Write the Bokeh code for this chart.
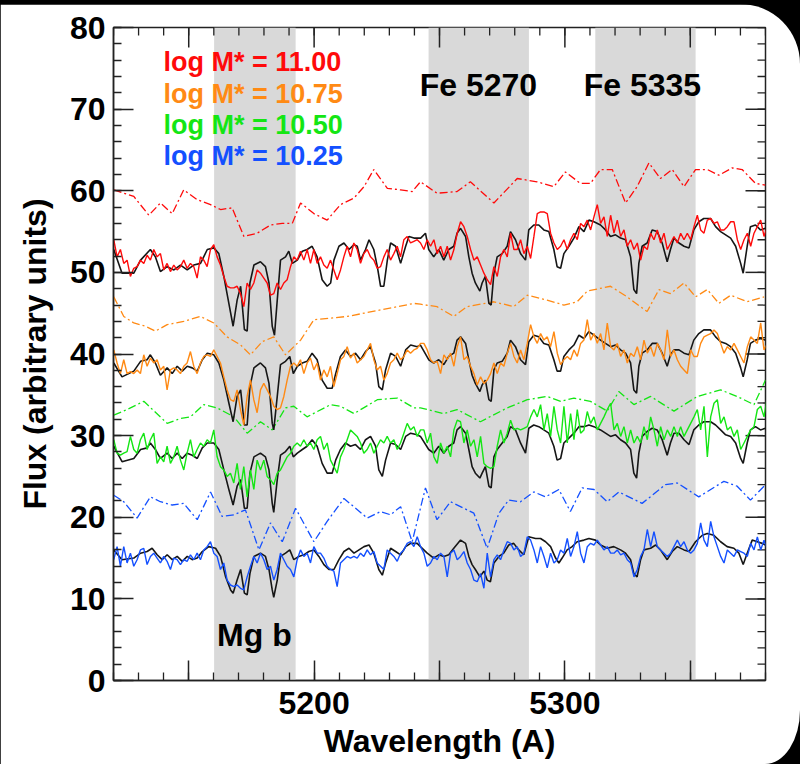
import numpy as np
from bokeh.plotting import figure
from bokeh.models import FixedTicker, Range1d
from bokeh.layouts import column
from bokeh.embed import file_html
from bokeh.resources import INLINE
from bokeh.core.properties import value

# ---------------- data ----------------
# Lick index bandpasses (Angstrom)
BAND_LEFT = [5160.125, 5245.65, 5312.125]
BAND_RIGHT = [5192.625, 5285.65, 5352.125]
BAND_NAMES = ["Mg b", "Fe 5270", "Fe 5335"]

# stacked data spectra: regular pixel grid
COLOR_WAVE_START = 5120.1
COLOR_WAVE_STEP = 1.3298

RED_FLUX = [
    54.0, 51.9, 52.8, 51.1, 51.5, 49.5, 50.5, 50.7, 51.5, 51.1,
    52.1, 51.5, 52.8, 51.9, 52.3, 50.3, 51.1, 50.1, 50.9, 50.3,
    50.7, 51.5, 50.5, 51.1, 50.7, 49.3, 51.9, 51.5, 50.7, 52.8,
    53.4, 51.9, 50.9, 49.5, 48.3, 48.1, 48.1, 48.3, 47.4, 45.8,
    48.7, 47.9, 48.7, 50.3, 49.9, 49.3, 48.7, 47.2, 47.4, 48.7,
    47.9, 48.7, 49.1, 50.7, 51.9, 51.5, 52.6, 51.5, 52.8, 51.1,
    52.8, 51.1, 51.9, 50.9, 50.5, 51.5, 50.3, 49.1, 50.3, 51.9,
    53.2, 51.9, 53.6, 52.8, 51.1, 52.3, 52.8, 51.9, 51.5, 50.5,
    50.7, 51.9, 52.8, 51.5, 52.3, 53.2, 51.9, 54.0, 54.4, 53.6,
    53.8, 54.0, 53.6,
    52.8, 54.0, 53.2, 54.0, 52.3, 53.2, 51.9, 53.2, 51.5, 52.8,
    54.8, 56.2, 55.6, 54.4, 52.8, 51.5, 51.9, 50.9, 49.9, 49.1,
    48.5, 50.7, 49.5, 51.9, 52.8, 51.9, 54.8, 52.8, 52.8, 54.0,
    52.3, 53.2, 51.7, 54.4, 57.2, 57.4, 57.4, 57.2, 54.8, 53.6,
    52.8, 53.2, 54.0, 52.8, 54.0, 54.8, 54.0, 56.0, 55.6, 56.4,
    55.2, 56.8, 58.3, 56.0, 56.8, 54.4, 57.0, 54.8, 56.4, 54.4,
    55.2, 53.2, 54.0, 52.8, 53.6, 51.5, 53.2, 52.8, 54.8, 54.0,
    55.2, 53.6, 54.8, 52.8, 53.6, 54.4, 53.6, 54.8, 54.0, 54.8,
    54.0, 55.6, 57.0, 55.2, 54.8, 56.4, 56.6, 56.0, 56.2, 55.2,
    55.2, 55.6, 56.2, 56.2, 54.0, 52.8, 54.0, 54.8, 53.2, 54.8,
    55.6, 56.4, 54.4, 55.6,
]
ORANGE_FLUX = [
    40.5, 38.9, 37.6, 39.3, 37.6, 37.85, 37.6, 38.05, 37.6, 39.9,
    38.5, 39.5, 38.9, 39.3, 38.05, 38.5, 35.6, 38.05, 38.3, 38.05,
    37.6, 38.5, 38.9, 40.3, 38.5, 37.6, 38.9, 39.7, 39.9, 39.7,
    40.5, 39.7, 38.9, 37.2, 35.6, 34.4, 34.2, 35.6, 33.2, 31.3,
    34.8, 36.8, 34.4, 32.8, 35.6, 36.4, 35.6, 34.8, 33.6, 33.2,
    33.4, 34.8, 36.8, 38.5, 38.9, 38.5, 39.3, 37.6, 38.9, 39.5,
    38.05, 38.9, 36.8, 38.05, 37.2, 38.5, 36.0, 37.6, 39.3, 39.7,
    40.9, 39.5, 40.1, 38.9, 39.3, 39.7, 40.5, 41.3, 39.3, 38.05,
    38.5, 36.8, 37.6, 38.9, 39.3, 40.1, 39.3, 39.7, 40.5, 40.1,
    40.5, 40.7, 41.3,
    41.3, 40.5, 39.3, 38.9, 39.1, 37.6, 39.9, 39.3, 40.1, 38.5,
    40.9, 42.1, 39.3, 39.7, 38.5, 37.6, 36.2, 37.2, 36.4, 36.8,
    37.6, 38.9, 37.6, 38.9, 38.5, 40.1, 41.3, 39.7, 38.9, 40.5,
    39.3, 41.3, 43.6, 42.1, 41.3, 42.5, 41.7, 42.1, 40.9, 42.75,
    40.1, 38.7, 39.3, 39.7, 39.3, 40.5, 39.7, 41.3, 41.7, 44.2,
    41.7, 42.5, 41.3, 42.5, 40.5, 43.8, 40.9, 40.5, 41.3, 39.7,
    40.5, 38.9, 40.1, 39.7, 40.9, 39.3, 41.7, 40.1, 40.9, 39.7,
    41.3, 40.5, 39.3, 42.95, 39.7, 40.5, 39.3, 38.5, 38.05, 37.6,
    40.5, 39.7, 39.7, 41.3, 42.1, 42.3, 42.5, 42.95, 42.5, 41.3,
    40.1, 40.9, 40.5, 41.3, 40.5, 39.7, 38.9, 40.9, 42.1, 41.7,
    41.3, 43.8, 40.5, 41.3,
]
GREEN_FLUX = [
    29.5, 27.85, 27.6, 27.85, 28.05, 29.9, 28.3, 27.85, 29.5, 30.3,
    28.3, 29.5, 30.3, 26.6, 27.4, 26.8, 28.7, 26.6, 27.4, 28.7,
    27.0, 25.8, 27.85, 29.5, 27.4, 28.3, 29.1, 28.7, 29.5, 29.1,
    30.7, 27.4, 26.2, 25.8, 25.0, 25.4, 24.2, 26.6, 23.4, 26.2,
    22.5, 25.8, 23.4, 27.0, 25.8, 27.0, 25.0, 24.6, 24.0, 25.4,
    25.8, 26.6, 27.4, 27.85, 28.7, 29.1, 28.7, 29.5, 28.7, 29.1,
    28.3, 29.5, 29.9, 28.3, 29.1, 27.0, 26.2, 25.4, 27.4, 28.3,
    29.5, 30.7, 30.3, 29.9, 29.1, 27.85, 28.3, 29.1, 27.85, 28.7,
    29.5, 29.1, 29.9, 29.1, 29.5, 28.3, 29.1, 30.3, 31.5, 30.7,
    31.1, 29.9, 30.7,
    30.7, 29.1, 30.3, 27.4, 26.6, 29.1, 27.85, 28.7, 27.4, 30.7,
    31.9, 31.7, 29.1, 30.7, 28.7, 29.5, 27.4, 29.9, 26.6, 26.2,
    26.0, 26.2, 28.7, 30.7, 29.1, 30.3, 31.9, 30.7, 30.9, 30.7,
    30.9, 31.1, 32.3, 33.2, 32.3, 33.8, 30.7, 32.7, 29.9, 33.6,
    30.7, 29.1, 33.6, 29.1, 32.7, 29.5, 33.2, 30.3, 30.7, 32.95,
    31.5, 32.3, 30.7, 31.5, 32.3, 33.2, 33.97, 30.7, 31.5, 29.9,
    31.1, 29.1, 30.7, 29.1, 29.9, 29.1, 31.1, 29.5, 32.3, 30.7,
    28.7, 31.1, 29.5, 30.7, 29.9, 31.1, 29.9, 31.1, 29.9, 30.7,
    31.5, 32.3, 33.2, 30.7, 33.6, 27.4, 32.3, 33.97, 34.4, 31.5,
    32.3, 30.7, 31.1, 29.9, 30.7, 28.3, 29.1, 29.9, 30.7, 31.1,
    33.2, 33.6, 32.3, 34.8,
]
BLUE_FLUX = [
    14.8, 16.4, 14.0, 16.4, 14.4, 15.6, 14.0, 14.8, 16.0, 16.2,
    14.2, 15.2, 15.6, 15.0, 14.4, 15.2, 14.6, 13.6, 15.0, 14.8,
    14.2, 14.8, 14.6, 15.4, 14.8, 15.6, 14.8, 16.0, 16.4, 17.0,
    15.6, 15.2, 13.6, 14.4, 12.3, 11.7, 11.5, 11.7, 11.3, 11.1,
    12.7, 14.0, 15.2, 14.4, 15.6, 14.8, 13.6, 14.0, 12.3, 13.6,
    15.6, 14.8, 14.0, 13.6, 12.7, 14.8, 16.0, 15.2, 15.6, 14.4,
    16.4, 15.6, 15.6, 15.0, 14.0, 13.6, 13.4, 11.5, 14.4, 14.8,
    15.2, 15.0, 15.2, 15.0, 15.6, 15.2, 16.0, 15.4, 15.8, 14.4,
    14.0, 13.6, 16.0, 15.6, 15.2, 14.6, 15.6, 16.0, 16.8, 17.0,
    16.4, 17.6, 16.4,
    15.6, 14.0, 14.4, 15.2, 14.8, 15.6, 15.2, 12.7, 15.6, 16.0,
    14.8, 15.2, 15.8, 14.4, 13.6, 12.3, 12.1, 13.1, 11.3, 15.6,
    12.7, 14.8, 15.4, 14.8, 16.0, 17.0, 16.8, 16.0, 16.4, 15.2,
    15.6, 17.6, 17.2, 16.0, 14.4, 16.4, 15.2, 13.8, 15.6, 14.4,
    14.8, 16.0, 15.6, 17.4, 15.2, 16.4, 18.25, 15.6, 14.4, 16.4,
    16.8, 16.6, 17.2, 16.6, 16.0, 16.4, 15.6, 15.6, 16.0, 15.4,
    15.6, 14.8, 14.4, 12.7, 13.6, 15.2, 16.0, 18.5, 16.4, 18.25,
    16.4, 16.0, 15.6, 15.2, 15.6, 16.4, 17.2, 16.4, 17.0, 16.0,
    15.6, 16.0, 16.8, 19.3, 17.2, 16.4, 19.5, 17.6, 16.4, 15.2,
    14.4, 16.0, 15.6, 15.2, 16.0, 15.8, 15.6, 15.2, 16.8, 16.0,
    17.6, 16.0, 17.2, 16.0,
]

# black model spectra
B1_WAVE = [
    5120.1, 5123.4, 5128.1, 5130.8, 5134.7, 5136.7, 5138.7, 5141.4, 5144.1, 5146.7,
    5149.4, 5152.0, 5154.7, 5157.4, 5160.0, 5162.0, 5164.0, 5166.0, 5167.7, 5169.3,
    5170.7, 5172.2, 5173.3, 5174.4, 5176.0, 5178.6, 5180.6, 5182.0, 5183.3, 5184.2,
    5185.3, 5186.6, 5188.6, 5189.9, 5191.3, 5193.3, 5195.3, 5197.2, 5199.2, 5201.2,
    5203.2, 5205.2, 5206.6, 5207.9, 5209.9, 5211.9, 5213.9, 5215.9, 5217.2, 5218.5,
    5220.5, 5221.9, 5223.8, 5225.2, 5226.5, 5227.8, 5229.2, 5230.5, 5232.5, 5234.5,
    5236.5, 5237.8, 5239.8, 5242.5, 5244.4, 5245.7, 5247.7, 5249.7, 5251.7, 5253.7,
    5255.7, 5257.0, 5258.4, 5260.4, 5261.7, 5263.0, 5264.3, 5266.1, 5267.0, 5268.3,
    5269.7, 5270.6, 5271.7, 5273.0, 5275.0, 5277.0, 5278.3, 5280.3, 5282.3, 5284.3,
    5285.6, 5287.6, 5289.6, 5291.6, 5293.6, 5295.6, 5296.9, 5298.3, 5299.6, 5301.6,
    5303.6, 5305.6, 5307.6, 5309.6, 5311.6, 5314.2, 5316.2, 5318.2, 5320.2, 5322.2,
    5324.2, 5326.2, 5327.5, 5328.6, 5329.5, 5330.8, 5332.8, 5334.8, 5336.8, 5338.8,
    5340.8, 5342.1, 5343.5, 5345.5, 5347.5, 5349.5, 5351.4, 5353.4, 5355.4, 5358.1,
    5360.1, 5362.1, 5364.1, 5366.1, 5368.1, 5370.1, 5371.1, 5372.7, 5374.0, 5376.0,
    5378.0, 5380.0,
]
B1_FLUX = [
    52.8, 49.9, 49.9, 51.5, 52.8, 51.9, 50.1, 50.7, 50.3, 50.9,
    50.3, 50.9, 51.1, 52.8, 53.0, 52.3, 49.5, 46.2, 43.4, 46.6,
    48.3, 43.0, 42.8, 48.7, 50.9, 51.3, 50.7, 48.7, 43.4, 42.3,
    46.6, 51.5, 51.9, 52.6, 51.1, 51.5, 52.6, 52.8, 53.2, 51.9,
    49.1, 48.3, 48.7, 51.5, 53.2, 53.6, 52.8, 53.4, 53.2, 51.5,
    52.8, 54.0, 52.8, 50.7, 48.3, 48.3, 51.5, 53.6, 53.2, 51.1,
    53.2, 54.4, 54.2, 54.2, 54.8, 52.8, 51.9, 52.8, 51.5, 52.8,
    53.2, 54.8, 55.4, 54.4, 51.9, 49.9, 48.7, 47.7, 48.7, 49.5,
    46.2, 46.0, 49.9, 51.9, 52.3, 53.2, 55.0, 54.0, 52.3, 51.5,
    55.2, 55.8, 55.8, 55.2, 55.0, 52.8, 50.7, 50.5, 52.3, 53.2,
    54.2, 55.6, 55.0, 56.4, 56.2, 55.8, 55.2, 54.4, 54.6, 54.2,
    54.0, 51.9, 47.9, 47.4, 51.1, 53.2, 53.6, 55.2, 55.0, 53.6,
    51.3, 52.8, 54.2, 53.6, 53.2, 53.0, 55.2, 56.2, 56.6, 56.6,
    55.6, 55.0, 54.6, 54.2, 53.2, 51.1, 49.9, 53.2, 55.6, 55.8,
    55.2, 55.4,
]
B23_WAVE = [
    5120.1, 5123.4, 5128.1, 5130.8, 5133.4, 5134.7, 5136.7, 5138.7, 5141.4, 5143.4,
    5145.4, 5147.4, 5149.4, 5151.4, 5153.4, 5155.4, 5157.4, 5160.0, 5162.0, 5164.0,
    5166.0, 5167.7, 5169.3, 5170.7, 5172.2, 5173.3, 5174.4, 5176.0, 5178.6, 5180.6,
    5182.0, 5183.3, 5183.9, 5185.3, 5186.6, 5188.6, 5190.3, 5191.7, 5193.3, 5195.3,
    5197.2, 5199.2, 5201.2, 5203.2, 5205.2, 5207.2, 5208.6, 5210.5, 5212.5, 5214.5,
    5216.5, 5218.5, 5220.5, 5222.5, 5224.5, 5225.8, 5227.2, 5228.5, 5230.5, 5232.5,
    5234.5, 5236.5, 5238.5, 5241.1,
    5242.4, 5245.7, 5247.7, 5249.7, 5251.7, 5253.7, 5255.7, 5257.0, 5258.4, 5260.4,
    5261.7, 5263.0, 5264.3, 5266.1, 5267.0, 5268.3, 5269.7, 5270.6, 5271.7, 5273.0,
    5275.0, 5277.0, 5278.3, 5280.3, 5282.3, 5284.3, 5285.6, 5287.6, 5289.6, 5291.6,
    5293.6, 5295.6, 5296.9, 5298.3, 5299.6, 5301.6, 5303.6, 5305.6, 5307.6, 5309.6,
    5311.6, 5314.2, 5316.2, 5318.2, 5320.2, 5322.2, 5324.2, 5326.2, 5327.5, 5328.6,
    5329.5, 5330.8, 5332.8, 5334.8, 5336.8, 5338.8, 5340.8, 5342.1, 5343.5, 5345.5,
    5347.5, 5349.5, 5351.4, 5353.4, 5355.4, 5358.1, 5360.1, 5362.1, 5364.1, 5366.1,
    5368.1, 5370.1, 5371.1, 5372.7, 5374.0, 5376.0, 5378.0, 5380.0,
]
B2_FLUX = [
    38.9, 37.2, 37.9, 39.1, 39.3, 39.9, 38.9, 37.4, 38.3, 37.6,
    38.5, 37.9, 38.5, 38.3, 37.9, 39.3, 40.1, 39.9, 38.9, 36.8,
    34.0, 31.7, 34.8, 35.6, 31.3, 31.3, 36.0, 38.3, 38.9, 38.3,
    36.4, 31.5, 30.7, 34.8, 38.7, 39.1, 39.7, 37.6, 38.5, 38.9,
    39.1, 40.1, 39.3, 36.8, 35.8, 35.8, 37.6, 39.7, 40.5, 39.7,
    40.1, 39.3, 40.3, 40.9, 38.9, 36.0, 35.6, 38.05, 40.1, 39.7,
    38.5, 40.5, 41.1, 40.9,
    41.1, 39.3, 38.9, 39.3, 38.7, 39.7, 40.1, 41.7, 42.1, 41.3,
    39.3, 37.4, 36.4, 35.4, 36.2, 36.8, 34.4, 34.2, 38.05, 38.9,
    39.1, 40.1, 41.7, 40.9, 39.3, 38.7, 41.5, 42.3, 42.1, 41.3,
    41.1, 39.3, 37.9, 37.9, 39.7, 40.5, 41.1, 42.3, 41.9, 42.75,
    42.3, 41.7, 41.3, 40.9, 41.1, 40.5, 40.1, 38.9, 35.6, 35.2,
    38.5, 40.1, 40.5, 41.3, 41.3, 40.1, 38.5, 39.9, 40.5, 40.5,
    40.1, 39.9, 41.7, 42.5, 42.95, 42.95, 42.1, 41.5, 41.3, 40.9,
    40.1, 38.3, 37.2, 39.3, 41.3, 41.7, 41.9, 41.7,
]
B3_FLUX = [
    28.7, 26.8, 27.2, 28.3, 28.5, 29.1, 28.3, 27.2, 27.85, 27.2,
    27.85, 27.2, 27.85, 27.6, 27.2, 28.5, 29.1, 29.1, 28.3, 25.8,
    23.4, 21.5, 23.8, 24.6, 21.1, 21.1, 25.4, 27.4, 27.85, 27.4,
    25.8, 21.7, 20.6, 24.6, 27.6, 28.05, 28.7, 27.4, 27.85, 28.3,
    28.7, 29.5, 28.7, 26.6, 25.4, 25.4, 27.0, 28.3, 29.1, 28.7,
    28.9, 28.3, 29.5, 29.9, 28.7, 25.8, 25.0, 27.0, 29.1, 28.9,
    28.3, 29.9, 30.3, 30.1,
    29.9, 28.3, 27.85, 28.7, 27.85, 28.7, 29.1, 30.7, 31.1, 30.3,
    28.3, 26.2, 25.4, 24.8, 25.4, 26.2, 23.8, 23.6, 27.4, 28.3,
    29.1, 29.9, 31.1, 30.7, 29.1, 27.85, 30.9, 31.3, 31.1, 30.7,
    30.3, 28.7, 27.0, 27.2, 29.1, 29.7, 30.3, 31.1, 31.1, 31.3,
    31.1, 30.7, 30.3, 29.9, 30.1, 29.5, 29.1, 28.3, 25.4, 24.8,
    27.85, 29.9, 30.5, 30.9, 30.7, 29.5, 27.6, 29.1, 30.3, 30.3,
    29.5, 28.9, 30.7, 31.3, 31.7, 31.7, 31.3, 30.7, 30.1, 29.9,
    29.1, 27.2, 26.6, 29.1, 30.7, 31.1, 30.7, 30.9,
]
B4_WAVE = [
    5120.1, 5123.4, 5128.1, 5130.8, 5133.4, 5135.4, 5137.4, 5139.4, 5141.4, 5143.4,
    5145.4, 5147.4, 5149.4, 5151.4, 5153.4, 5155.4, 5158.0, 5160.7, 5162.7, 5164.7,
    5166.7, 5167.7, 5169.3, 5170.7, 5172.2, 5173.3, 5174.4, 5176.0, 5178.6, 5180.6,
    5182.0, 5183.3, 5183.9, 5185.3, 5186.6, 5188.6, 5190.3, 5191.9, 5193.9, 5195.9,
    5197.9, 5199.9, 5201.9, 5203.9, 5205.9, 5207.9, 5209.9, 5211.9, 5213.9, 5215.9,
    5217.9, 5219.9, 5221.9, 5223.8, 5225.8, 5227.2, 5228.5, 5230.5, 5232.5, 5234.5,
    5236.5, 5238.5, 5241.1,
    5242.4, 5245.1, 5247.7, 5249.7, 5251.7, 5253.7, 5255.7, 5258.4, 5260.4, 5261.7,
    5263.0, 5264.3, 5266.1, 5267.7, 5269.0, 5270.3, 5271.7, 5273.7, 5275.6, 5277.6,
    5279.6, 5281.6, 5283.6, 5285.6, 5288.3, 5290.3, 5292.3, 5294.3, 5296.3, 5297.6,
    5298.9, 5300.9, 5302.9, 5304.9, 5307.6, 5309.6, 5312.2, 5314.2, 5316.9, 5319.5,
    5322.2, 5324.2, 5326.2, 5327.5, 5328.8, 5330.2, 5331.5, 5334.2, 5336.2, 5338.1,
    5340.8, 5342.8, 5344.8, 5347.5, 5349.5, 5352.1, 5354.8, 5356.8, 5359.4, 5362.1,
    5364.7, 5367.4, 5369.4, 5371.1, 5372.7, 5374.7, 5376.7, 5378.7, 5380.0,
]
B4_FLUX = [
    16.0, 14.8, 15.0, 15.6, 15.8, 16.2, 15.4, 14.8, 15.4, 14.8,
    15.2, 14.6, 15.2, 14.8, 15.0, 15.8, 16.4, 16.2, 15.2, 12.7,
    11.1, 10.7, 12.3, 13.6, 10.7, 10.5, 13.1, 15.2, 15.6, 15.2,
    13.6, 11.1, 10.2, 12.3, 15.2, 15.6, 16.0, 14.8, 15.2, 15.4,
    15.8, 16.0, 15.2, 14.2, 13.6, 13.6, 14.8, 15.8, 16.2, 15.6,
    16.0, 16.4, 16.6, 15.6, 13.6, 12.9, 14.4, 16.2, 15.8, 15.4,
    16.4, 16.8, 16.8,
    16.4, 15.6, 15.0, 15.4, 15.2, 15.4, 16.2, 17.2, 16.8, 15.2,
    14.2, 13.6, 12.7, 13.4, 12.3, 12.1, 14.4, 15.2, 15.6, 16.6,
    16.8, 16.0, 15.4, 17.6, 17.4, 17.4, 17.0, 16.4, 15.0, 14.4,
    15.0, 16.0, 16.4, 17.0, 17.2, 17.4, 17.2, 16.6, 16.2, 16.4,
    16.0, 15.6, 14.8, 13.1, 12.7, 14.8, 16.0, 16.2, 16.6, 16.0,
    14.8, 15.8, 16.4, 16.0, 15.8, 17.0, 17.8, 18.0, 17.8, 17.0,
    16.4, 16.2, 15.6, 14.2, 15.6, 17.2, 17.0, 16.8, 16.6,
]

# dash-dot curves
RED_DD_WAVE = [5120.1, 5128.1, 5134.1, 5138.7, 5143.4, 5148.0, 5153.4, 5158.7, 5162.7, 5167.3,
               5172.0, 5177.3, 5182.6, 5187.3, 5191.3, 5194.6, 5199.9, 5205.2, 5210.5, 5215.9,
               5219.9, 5223.8, 5229.2, 5234.5, 5239.1, 5242.4, 5249.0, 5257.0, 5262.3, 5271.7,
               5281.0, 5288.9, 5295.6, 5300.2, 5306.2, 5310.2, 5314.2, 5318.9, 5324.2, 5328.8,
               5333.5, 5338.1, 5342.8, 5347.5, 5352.1, 5356.8, 5361.4, 5366.7, 5370.7, 5376.0,
               5380.0]
RED_DD_FLUX = [60.1, 59.3, 57.0, 58.5, 57.2, 60.1, 58.9, 58.3, 57.7, 57.9,
               54.4, 54.8, 55.8, 56.0, 56.0, 58.5, 57.2, 56.4, 58.3, 59.1,
               60.5, 62.6, 60.3, 60.1, 59.9, 61.1, 59.7, 59.9, 61.1, 58.5,
               61.5, 61.1, 60.5, 62.3, 60.9, 60.9, 62.6, 62.6, 58.5, 60.5,
               63.4, 61.5, 62.6, 60.5, 62.6, 62.6, 61.9, 62.8, 62.6, 60.9,
               60.7]
ORANGE_DD_WAVE = [5120.1, 5124.1, 5128.1, 5132.8, 5136.7, 5141.4, 5148.0, 5154.7, 5160.0, 5165.3,
                  5170.7, 5174.6, 5179.3, 5183.9, 5188.6, 5194.6, 5199.9, 5206.6, 5213.2, 5219.9,
                  5226.5, 5233.2, 5239.8, 5242.4, 5249.0, 5255.7, 5261.0, 5271.7, 5279.6, 5285.0,
                  5292.9, 5299.6, 5304.9, 5308.9, 5318.2, 5324.8, 5332.8, 5337.5, 5342.1, 5347.5,
                  5352.1, 5356.8, 5361.4, 5366.1, 5372.7, 5379.4]
ORANGE_DD_FLUX = [47.0, 44.6, 43.8, 43.4, 42.8, 43.6, 44.0, 44.6, 43.8, 42.1,
                  41.1, 39.9, 41.5, 42.1, 39.9, 41.7, 44.2, 44.4, 44.6, 45.0,
                  45.4, 45.8, 46.2, 46.1, 45.8, 44.6, 45.8, 46.4, 45.8, 47.2,
                  46.6, 46.0, 46.4, 47.7, 48.3, 47.0, 45.2, 47.9, 47.4, 48.7,
                  47.0, 47.9, 46.2, 47.2, 46.4, 47.0]
GREEN_DD_WAVE = [5120.1, 5125.4, 5132.1, 5141.4, 5146.7, 5150.7, 5156.0, 5161.3, 5168.0, 5173.3,
                 5178.6, 5183.3, 5188.6, 5191.9, 5197.2, 5206.6, 5210.5, 5215.9, 5225.2, 5233.2,
                 5239.8, 5242.4, 5251.7, 5257.0, 5266.3, 5277.0, 5285.0, 5292.9, 5298.3, 5303.6,
                 5310.2, 5316.9, 5321.5, 5327.5, 5334.2, 5343.5, 5352.8, 5362.1, 5368.7, 5375.4,
                 5380.0]
GREEN_DD_FLUX = [32.5, 33.2, 34.2, 31.5, 32.1, 32.3, 33.8, 33.4, 32.3, 30.3,
                 31.7, 30.7, 33.4, 33.6, 32.3, 33.8, 33.6, 32.7, 34.4, 34.6,
                 33.4, 33.4, 32.7, 33.2, 31.7, 33.4, 34.4, 34.8, 34.2, 34.6,
                 34.2, 33.0, 35.4, 33.8, 34.8, 33.0, 34.8, 35.6, 34.8, 33.8,
                 36.8]
BLUE_DD_WAVE = [5120.1, 5124.1, 5129.4, 5134.7, 5138.7, 5143.4, 5148.0, 5153.4, 5158.7, 5163.3,
                5168.0, 5172.6, 5178.0, 5182.6, 5187.3, 5192.6, 5199.9, 5205.2, 5211.9, 5221.2,
                5226.5, 5230.5, 5234.5, 5239.1, 5244.4, 5249.0, 5254.4, 5263.7, 5269.0, 5273.7,
                5277.6, 5282.3, 5287.6, 5292.3, 5297.6, 5302.2, 5306.9, 5311.6, 5316.9, 5321.5,
                5330.8, 5340.1, 5344.8, 5353.4, 5363.4, 5368.7, 5374.0, 5379.4]
BLUE_DD_FLUX = [22.7, 21.9, 19.9, 22.5, 21.9, 21.5, 21.7, 19.7, 23.1, 20.1,
                20.3, 20.9, 16.0, 19.3, 17.0, 21.1, 17.0, 19.5, 22.3, 19.9,
                20.7, 20.3, 21.3, 17.0, 23.6, 19.7, 21.9, 20.5, 16.2, 20.5,
                22.1, 21.9, 23.1, 22.5, 23.4, 20.7, 23.6, 23.4, 21.9, 23.1,
                21.7, 24.0, 24.2, 22.5, 24.4, 23.8, 22.1, 23.8]

LEGEND_TEXT = ["log M* = 11.00", "log M* = 10.75", "log M* = 10.50", "log M* = 10.25"]
X_MAJOR = [5150, 5200, 5250, 5300, 5350]
X_MINOR = list(range(5120, 5381, 10))
X_LABELLED = [5200, 5300]
Y_MAJOR = [0, 10, 20, 30, 40, 50, 60, 70, 80]
Y_MINOR = list(range(0, 81, 2))
X_LIM = (5120, 5380)
Y_LIM = (0, 80)

# ---------------- styling ----------------
FONT = "Liberation Sans"
COLORS = ["#ff0a0a", "#ff8a14", "#14e614", "#1450ff"]
BLACK = "#161616"
AXIS_C = "#222222"

p = figure(width=800, height=760,
           x_range=Range1d(*X_LIM), y_range=Range1d(*Y_LIM),
           output_backend="svg", toolbar_location=None,
           min_border_left=113, min_border_right=35,
           min_border_top=23, min_border_bottom=84,
           background_fill_color="white", border_fill_color="white")
p.xgrid.visible = False
p.ygrid.visible = False
p.outline_line_color = AXIS_C
p.outline_line_width = 1.5

p.xaxis.ticker = FixedTicker(ticks=X_MAJOR, minor_ticks=X_MINOR)
p.yaxis.ticker = FixedTicker(ticks=Y_MAJOR, minor_ticks=Y_MINOR)
p.xaxis.major_label_overrides = {t: ("" if t not in X_LABELLED else str(t)) for t in X_MAJOR}

for ax in (p.xaxis[0], p.yaxis[0]):
    ax.major_tick_in = 20
    ax.major_tick_out = 0
    ax.minor_tick_in = 8
    ax.minor_tick_out = 0
    ax.major_tick_line_color = AXIS_C
    ax.minor_tick_line_color = AXIS_C
    ax.major_tick_line_width = 1.5
    ax.minor_tick_line_width = 1.3
    ax.axis_line_color = AXIS_C
    ax.axis_line_width = 1.5
    ax.major_label_text_font = FONT
    ax.major_label_text_font_style = "bold"
    ax.major_label_text_font_size = "32px"
    ax.major_label_text_color = "black"
    ax.major_label_standoff = 8
    ax.axis_label_text_font = FONT
    ax.axis_label_text_font_style = "bold"
    ax.axis_label_text_font_size = "32px"
    ax.axis_label_text_color = "black"

p.xaxis.axis_label = "Wavelength (A)"
p.xaxis.major_label_standoff = 11
p.xaxis.axis_label_standoff = 6
p.yaxis.axis_label = "Flux (arbitrary units)"
p.yaxis.axis_label_standoff = 14

# mirrored ticks on the top and right frame edges (screen-length rays)
p.ray(x=X_MAJOR, y=Y_LIM[1], length=20, angle=-np.pi / 2, length_units="screen",
      line_color=AXIS_C, line_width=1.5)
p.ray(x=X_MINOR, y=Y_LIM[1], length=8, angle=-np.pi / 2, length_units="screen",
      line_color=AXIS_C, line_width=1.3)
p.ray(x=X_LIM[1], y=Y_MAJOR, length=20, angle=np.pi, length_units="screen",
      line_color=AXIS_C, line_width=1.5)
p.ray(x=X_LIM[1], y=Y_MINOR, length=8, angle=np.pi, length_units="screen",
      line_color=AXIS_C, line_width=1.3)

# index bandpasses
p.quad(left=BAND_LEFT, right=BAND_RIGHT, bottom=Y_LIM[0], top=Y_LIM[1],
       fill_color="#d9d9d9", line_color=None, level="underlay")

# dash-dot curves
for w, f, c in [(RED_DD_WAVE, RED_DD_FLUX, COLORS[0]),
                (ORANGE_DD_WAVE, ORANGE_DD_FLUX, COLORS[1]),
                (GREEN_DD_WAVE, GREEN_DD_FLUX, COLORS[2]),
                (BLUE_DD_WAVE, BLUE_DD_FLUX, COLORS[3])]:
    p.line(w, f, line_color=c, line_width=1.3, line_dash="8 3 2 3")

# black model spectra
for w, f in [(B1_WAVE, B1_FLUX), (B23_WAVE, B2_FLUX), (B23_WAVE, B3_FLUX), (B4_WAVE, B4_FLUX)]:
    p.line(w, f, line_color=BLACK, line_width=1.6)

# coloured data spectra
for f, c in zip([RED_FLUX, ORANGE_FLUX, GREEN_FLUX, BLUE_FLUX], COLORS):
    w = COLOR_WAVE_START + COLOR_WAVE_STEP * np.arange(len(f))
    p.line(w, f, line_color=c, line_width=1.4)

# band names
p.text(x=[5176.2, 5265.5, 5330.9], y=[5.6, 72.9, 72.9], text=BAND_NAMES,
       text_font=value(FONT), text_font_style="bold", text_font_size="32px",
       text_color="black", text_align="center", text_baseline="middle")

# legend texts
p.text(x=[5139.9] * 4, y=[75.75, 71.9, 68.05, 64.2], text=LEGEND_TEXT,
       text_font=value(FONT), text_font_style="bold", text_font_size="27px",
       text_color=COLORS, text_align="left", text_baseline="middle")

p.margin = (4, 0, 0, 0)
p.styles = {"border-radius": "0 60px 35px 0 / 0 60px 54px 0", "overflow": "hidden"}

root = column(p, styles={"background-color": "black"})

open("out.html", "w").write(file_html(root, INLINE))
